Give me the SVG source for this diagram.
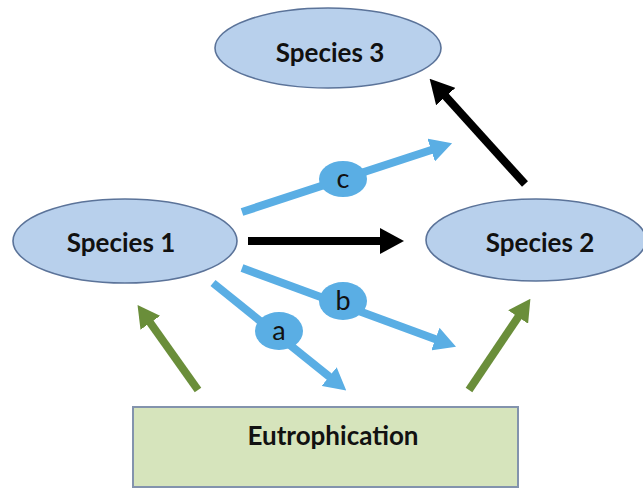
<svg xmlns="http://www.w3.org/2000/svg" width="643" height="489" viewBox="0 0 643 489">
<style>
.sp{fill:#b8d0ec;stroke:#5b7399;stroke-width:1.6}
.lbl{font-family:Lato,"Open Sans","Liberation Sans",sans-serif;font-weight:bold;fill:#111;text-anchor:middle}
.big{font-size:26px}
.blue{stroke:#5aaee4;stroke-width:8;fill:none}
.black{stroke:#000;stroke-width:8;fill:none}
.green{stroke:#6a8e3a;stroke-width:8;fill:none}
.tag{fill:#5aaee4}
.tagt{font-family:Lato,"Open Sans","Liberation Sans",sans-serif;font-size:27px;fill:#111;text-anchor:middle}
</style>
<defs>
<marker id="hb" markerUnits="userSpaceOnUse" markerWidth="22" markerHeight="24" viewBox="0 0 22 24" refX="1" refY="12" orient="auto"><path d="M0,0 L22,12 L0,24 z" fill="#5aaee4"/></marker>
<marker id="hk" markerUnits="userSpaceOnUse" markerWidth="24" markerHeight="26" viewBox="0 0 24 26" refX="1" refY="13" orient="auto"><path d="M0,0 L24,13 L0,26 z" fill="#000"/></marker>
<marker id="hg" markerUnits="userSpaceOnUse" markerWidth="22" markerHeight="24" viewBox="0 0 22 24" refX="1" refY="12" orient="auto"><path d="M0,0 L22,12 L0,24 z" fill="#6a8e3a"/></marker>
</defs>
<g id="species3"><ellipse class="sp" cx="328" cy="48" rx="113" ry="40"/><text class="lbl big" x="330" y="62">Species 3</text></g>
<g id="species1"><ellipse class="sp" cx="125" cy="241" rx="112" ry="42"/><text class="lbl big" x="121" y="252">Species 1</text></g>
<g id="species2"><ellipse class="sp" cx="536" cy="240" rx="110" ry="41"/><text class="lbl big" x="540" y="252">Species 2</text></g>
<g id="eutrophication"><rect x="133" y="407" width="385" height="80" fill="#d6e4bc" stroke="#8393ad" stroke-width="2"/><text class="lbl big" x="333" y="445">Eutrophication</text></g>
<g id="connectors">
<line class="black" x1="248" y1="241" x2="381" y2="241" marker-end="url(#hk)"/>
<line class="black" x1="525" y1="184" x2="445.1" y2="95.8" marker-end="url(#hk)"/>
<line class="blue" x1="242" y1="212" x2="432.1" y2="149.8" marker-end="url(#hb)"/>
<line class="blue" x1="242" y1="268" x2="436.3" y2="339.4" marker-end="url(#hb)"/>
<line class="blue" x1="213" y1="283" x2="329.9" y2="377.2" marker-end="url(#hb)"/>
<line class="green" x1="198" y1="390" x2="149.7" y2="322" marker-end="url(#hg)"/>
<line class="green" x1="469" y1="390" x2="518.7" y2="316.2" marker-end="url(#hg)"/>
<g id="label-c"><ellipse class="tag" cx="343" cy="179" rx="24" ry="18"/><text class="tagt" x="343" y="188">c</text></g>
<g id="label-b"><ellipse class="tag" cx="343" cy="301" rx="24" ry="19"/><text class="tagt" x="343" y="310">b</text></g>
<g id="label-a"><ellipse class="tag" cx="279" cy="331" rx="24" ry="19"/><text class="tagt" x="279" y="340">a</text></g>
</g>
</svg>
